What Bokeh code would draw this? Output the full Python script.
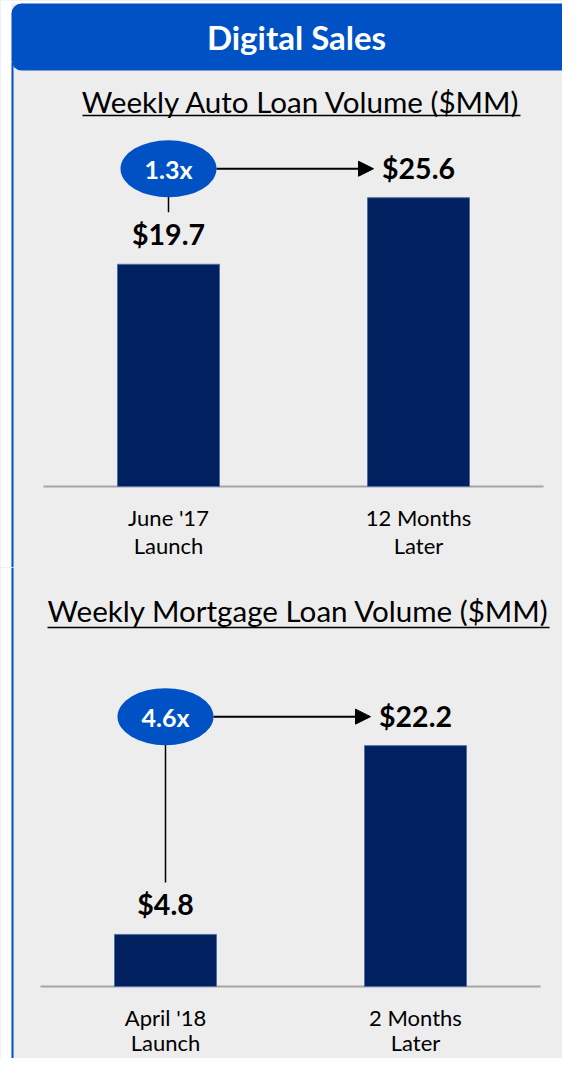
from bokeh.plotting import figure
from bokeh.layouts import column
from bokeh.models import Range1d, Arrow, NormalHead
from bokeh.core.properties import value
from bokeh.embed import file_html
from bokeh.resources import INLINE

# ---------------- data ----------------
header_title = "Digital Sales"

auto_title = "Weekly Auto Loan Volume ($MM)"
auto_categories = ["June '17\nLaunch", "12 Months\nLater"]
auto_values = [19.7, 25.6]

mort_title = "Weekly Mortgage Loan Volume ($MM)"
mort_categories = ["April '18\nLaunch", "2 Months\nLater"]
mort_values = [4.8, 22.2]

# ---------------- style ----------------
BG = "#EDEDED"
BLUE = "#0052C4"
NAVY = "#002060"
FONT = "Lato"
W = 562
LEFT_PX, RIGHT_PX = 0, 562
XS = 250.0  # px per category step


def panel(top_px, bottom_px, base_px, cx0_px, ppu, cats, vals, title,
          title_cx, title_cy, ul_x0, ul_x1, ul_y, lab_off=(31, 59), with_header=False):
    X = lambda px: (px - cx0_px) / XS
    Y = lambda py: (base_px - py) / ppu
    p = figure(width=W, height=bottom_px - top_px, output_backend="svg",
               toolbar_location=None,
               x_range=Range1d(X(LEFT_PX), X(RIGHT_PX)),
               y_range=Range1d(Y(bottom_px), Y(top_px)),
               x_axis_location=None, y_axis_location=None,
               min_border=0, background_fill_color=BG, border_fill_color=BG,
               outline_line_color=None)
    p.grid.grid_line_color = None

    # left white margin + blue border line
    p.quad(left=X(LEFT_PX), right=X(11), top=Y(top_px), bottom=Y(bottom_px),
           fill_color="white", line_color=None)
    strip_top = Y(top_px)
    if with_header:
        p.quad(left=X(LEFT_PX), right=X(RIGHT_PX), top=Y(top_px), bottom=Y(3),
               fill_color="white", line_color=None)
        p.quad(left=X(11), right=X(RIGHT_PX + 30), top=Y(3), bottom=Y(70),
               fill_color=BLUE, line_color=None, border_radius=10)
        p.text(x=[X(296)], y=[Y(36)], text=[header_title], text_color="white",
               text_font=value(FONT), text_font_style="bold", text_font_size="33px",
               text_align="center", text_baseline="middle")
        strip_top = Y(62)
    p.quad(left=X(11), right=X(13), top=strip_top, bottom=Y(bottom_px),
           fill_color=BLUE, line_color=None)

    # title with underline
    p.text(x=[X(title_cx)], y=[Y(title_cy)], text=[title], text_color="black",
           text_font=value(FONT), text_font_size="29.6px",
           text_align="center", text_baseline="middle")
    p.segment(x0=[X(ul_x0)], y0=[Y(ul_y)], x1=[X(ul_x1)], y1=[Y(ul_y)],
              line_color="black", line_width=1.5)

    idx = list(range(len(vals)))
    # baseline
    p.segment(x0=[-0.5], y0=[0], x1=[len(vals) - 0.5], y1=[0],
              line_color="#A6A6A6", line_width=2)
    # bars
    p.vbar(x=idx, top=vals, bottom=0, width=102 / XS, fill_color=NAVY,
           line_color="#4F6FA8", line_width=1)
    # value labels
    lab_y = [v + 30 / ppu for v in vals]
    p.text(x=idx, y=lab_y, text=[f"${v:.1f}" for v in vals], text_color="black",
           text_font=value(FONT), text_font_style="bold", text_font_size="28.5px",
           text_align="center", text_baseline="middle")
    # category labels (two lines)
    l1 = [c.split("\n")[0] for c in cats]
    l2 = [c.split("\n")[1] for c in cats]
    p.text(x=idx, y=[-lab_off[0] / ppu] * len(idx), text=l1, text_color="black",
           text_font=value(FONT), text_font_size="22px",
           text_align="center", text_baseline="middle")
    p.text(x=idx, y=[-lab_off[1] / ppu] * len(idx), text=l2, text_color="black",
           text_font=value(FONT), text_font_size="22px",
           text_align="center", text_baseline="middle")

    # growth multiple bubble, connector, arrow
    row = max(lab_y) - 1 / ppu
    p.segment(x0=[0], y0=[row - 28 / ppu], x1=[0], y1=[vals[0] + 52 / ppu],
              line_color="black", line_width=1.5)
    p.add_layout(Arrow(end=NormalHead(size=15, fill_color="black", line_color="black"),
                       x_start=48 / XS, y_start=row, x_end=1 - 45 / XS, y_end=row,
                       line_color="black", line_width=2))
    p.ellipse(x=[0], y=[row], width=96, height=57, width_units="screen",
              height_units="screen", fill_color=BLUE, line_color=None)
    p.text(x=[0], y=[row], text=[f"{vals[1] / vals[0]:.1f}x"], text_color="white",
           text_font=value(FONT), text_font_style="bold", text_font_size="25px",
           text_align="center", text_baseline="middle")
    return p


p1 = panel(0, 567, 486, 168, 11.28, auto_categories, auto_values, auto_title,
           301, 101, 82, 520, 115, lab_off=(31, 59), with_header=True)
p2 = panel(567, 1058, 986, 165, 10.85, mort_categories, mort_values, mort_title,
           298, 610, 47, 549, 627, lab_off=(31, 56))

layout = column(p1, p2, spacing=0, styles={"background-color": BG})
open("out.html", "w").write(file_html(layout, INLINE))
